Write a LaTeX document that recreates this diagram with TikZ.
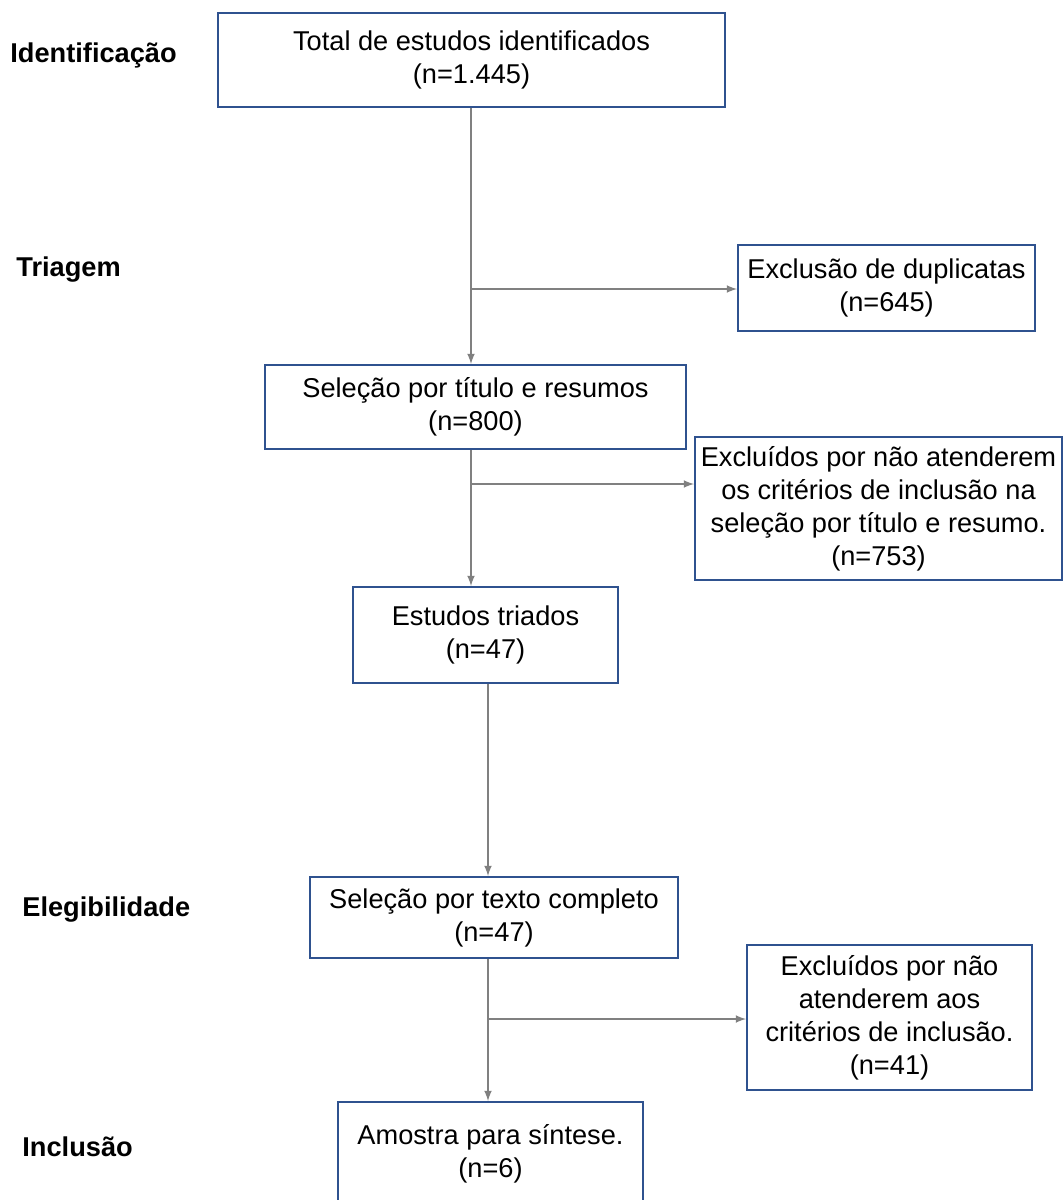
\documentclass[tikz,border=0pt]{standalone}
\usepackage{fontspec}
\setmainfont{Liberation Sans}
\usetikzlibrary{arrows,positioning}
\definecolor{boxblue}{RGB}{47,82,143}
\definecolor{linegray}{RGB}{128,128,128}
\begin{document}
\begin{tikzpicture}[x=0.5pt,y=-0.5pt]
\tikzstyle{stage}=[rectangle, draw=boxblue, line width=1pt, align=center,
	inner sep=2pt, font=\fontsize{13.6}{16.5}\selectfont
]
\tikzstyle{phase}=[anchor=west, inner sep=0pt, font=\fontsize{13.6}{16.5}\selectfont\bfseries]
\tikzstyle{flow}=[draw=linegray, line width=0.75pt, -latex]
\useasboundingbox (0,0) rectangle (1063,1200);
\node[phase] (ident) at (10,55) {Identificação};
\node[phase] (triag) at (16,270) {Triagem};
\node[phase] (eleg) at (22,910) {Elegibilidade};
\node[phase] (incl) at (22,1147) {Inclusão};
\node[stage, minimum width=253.5pt, minimum height=47pt] (total) at (471.5,60) {Total de estudos identificados\\(n=1.445)};
\node[stage, minimum width=148.5pt, minimum height=43pt] (dup) at (886.5,288) {Exclusão de duplicatas\\(n=645)};
\node[stage, minimum width=210.5pt, minimum height=42pt] (titulo) at (475.5,407) {Seleção por título e resumos\\(n=800)};
\node[stage, minimum width=183.5pt, minimum height=71.5pt] (exctit) at (878.5,508.5) {Excluídos por não atenderem\\os critérios de inclusão na\\seleção por título e resumo.\\(n=753)};
\node[stage, minimum width=132.5pt, minimum height=48pt] (triados) at (485.5,635) {Estudos triados\\(n=47)};
\node[stage, minimum width=184pt, minimum height=40.5pt] (texto) at (494,917.5) {Seleção por texto completo\\(n=47)};
\node[stage, minimum width=142.5pt, minimum height=72.5pt] (exctex) at (889.5,1017.5) {Excluídos por não\\atenderem aos\\critérios de inclusão.\\(n=41)};
\node[stage, minimum width=152.5pt, minimum height=52pt] (amostra) at (490.5,1154) {Amostra para síntese.\\(n=6)};
\coordinate (c1) at (471,289);
\coordinate (c2) at (471,484);
\coordinate (c3) at (488,1019);
\draw[flow] (c1 |- total.south) -- (c1 |- titulo.north);
\draw[flow] (c1) -- (c1 -| dup.west);
\draw[flow] (c2 |- titulo.south) -- (c2 |- triados.north);
\draw[flow] (c2) -- (c2 -| exctit.west);
\draw[flow] (c3 |- triados.south) -- (c3 |- texto.north);
\draw[flow] (c3 |- texto.south) -- (c3 |- amostra.north);
\draw[flow] (c3) -- (c3 -| exctex.west);
\end{tikzpicture}
\end{document}
